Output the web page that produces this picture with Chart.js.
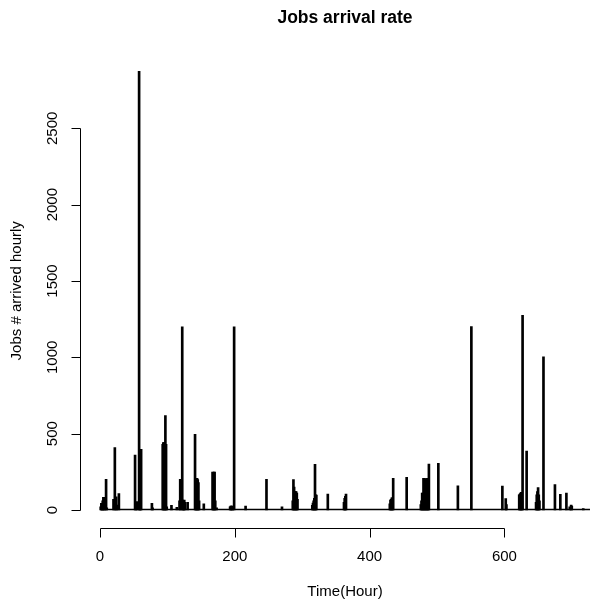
<!DOCTYPE html>
<html>
<head>
<meta charset="utf-8">
<script src="https://cdn.jsdelivr.net/npm/chart.js@4.4.1/dist/chart.umd.min.js"></script>
<style>
html, body { margin: 0; padding: 0; background: #fff; overflow: hidden; }
#wrap { width: 590px; height: 603px; overflow: hidden; }
canvas { display: block; }
</style>
</head>
<body>
<div id="wrap"><canvas id="chart" width="620" height="603"></canvas></div>
<script>
// hourly job arrivals (hours not listed are ~0)
const hours = [
    1, 2, 3, 4, 5, 6, 7, 9, 10, 20, 22, 24, 25, 28,
    52, 53, 55, 58, 59, 60, 61, 77, 78,
    93, 94, 95, 96, 97, 98, 99, 106, 114,
    118, 119, 122, 123, 124, 125, 126, 130,
    141, 142, 143, 144, 145, 146, 147, 154,
    167, 168, 169, 170, 171, 173,
    193, 194, 195, 196, 197, 199, 216, 247, 270,
    286, 287, 288, 289, 290, 291, 292, 293,
    315, 316, 317, 318, 319, 320, 321, 338,
    362, 363, 364, 365,
    430, 431, 432, 433, 434, 435, 455,
    476, 477, 478, 479, 480, 481, 482, 483, 484, 485, 486, 487, 488,
    502, 531, 551, 597, 602, 603,
    622, 623, 624, 625, 626, 627, 633,
    647, 648, 649, 650, 651, 652, 658,
    675, 683, 692, 697, 699, 700, 717
];
const jobs = [
    20, 44, 44, 60, 83, 83, 30, 201, 15, 70, 408, 87, 33, 108,
    360, 20, 55, 2873, 40, 40, 397, 44, 15,
    430, 441, 441, 441, 618, 430, 20, 30, 17,
    60, 201, 1200, 65, 60, 65, 50, 50,
    496, 100, 207, 207, 200, 180, 60, 40,
    249, 245, 249, 249, 60, 15,
    20, 26, 26, 26, 20, 1200, 25, 201, 20,
    60, 199, 150, 120, 120, 120, 110, 70,
    30, 45, 60, 76, 299, 100, 98, 105,
    50, 76, 90, 105,
    40, 65, 70, 80, 80, 207, 214,
    35, 60, 110, 110, 208, 208, 60, 100, 205, 205, 205, 205, 301,
    305, 159, 1201, 157, 74, 35,
    100, 105, 110, 115, 60, 1275, 386,
    50, 100, 120, 147, 100, 60, 1004,
    166, 103, 111, 20, 33, 25, 10
];
// low background level of arrivals, first and last hour
const floorHours = [1, 740];
const floorJobs = [3, 3];

const xTicks = [0, 200, 400, 600];
const yTicks = [0, 500, 1000, 1500, 2000, 2500];

const titleText = 'Jobs arrival rate';
const xTitle = 'Time(Hour)';
const yTitle = 'Jobs # arrived hourly';

const font = '"Liberation Sans", Arial, sans-serif';

// R style axes: lines only span the tick range, ticks point outward
const rAxes = {
    id: 'rAxes',
    afterDraw(chart) {
        const { ctx, chartArea: area, scales: { x, y } } = chart;
        ctx.save();
        ctx.strokeStyle = '#000';
        ctx.fillStyle = '#000';
        ctx.lineWidth = 1;

        const yAxis = Math.round(area.bottom) + 0.5;
        ctx.beginPath();
        ctx.moveTo(Math.round(x.getPixelForValue(xTicks[0])) + 0.5, yAxis);
        ctx.lineTo(Math.round(x.getPixelForValue(xTicks[xTicks.length - 1])) + 0.5, yAxis);
        xTicks.forEach(t => {
            const px = Math.round(x.getPixelForValue(t)) + 0.5;
            ctx.moveTo(px, yAxis);
            ctx.lineTo(px, yAxis + 9);
        });
        const xAxis = Math.round(area.left) + 0.5;
        ctx.moveTo(xAxis, Math.round(y.getPixelForValue(yTicks[0])) + 0.5);
        ctx.lineTo(xAxis, Math.round(y.getPixelForValue(yTicks[yTicks.length - 1])) + 0.5);
        yTicks.forEach(t => {
            const py = Math.round(y.getPixelForValue(t)) + 0.5;
            ctx.moveTo(xAxis, py);
            ctx.lineTo(xAxis - 9, py);
        });
        ctx.stroke();

        ctx.font = '15px ' + font;
        ctx.textAlign = 'center';
        ctx.textBaseline = 'middle';
        xTicks.forEach(t => {
            ctx.fillText(String(t), x.getPixelForValue(t), area.bottom + 29);
        });
        yTicks.forEach(t => {
            ctx.save();
            ctx.translate(area.left - 27, y.getPixelForValue(t));
            ctx.rotate(-Math.PI / 2);
            ctx.fillText(String(t), 0, 0);
            ctx.restore();
        });

        const midX = (area.left + area.right) / 2;
        const midY = (area.top + area.bottom) / 2;
        ctx.fillText(xTitle, midX, 592);
        ctx.save();
        ctx.translate(17, midY);
        ctx.rotate(-Math.PI / 2);
        ctx.fillText(yTitle, 0, 0);
        ctx.restore();

        ctx.font = 'bold 17.5px ' + font;
        ctx.fillText(titleText, midX, 18);
        ctx.restore();
    }
};

const ctx = document.getElementById('chart').getContext('2d');
new Chart(ctx, {
    type: 'bar',
    data: {
        datasets: [
            {
                type: 'line',
                data: floorHours.map((h, i) => ({ x: h, y: floorJobs[i] })),
                borderColor: '#000',
                borderWidth: 1.5,
                pointRadius: 0,
                order: 2
            },
            {
                data: hours.map((h, i) => ({ x: h, y: jobs[i] })),
                backgroundColor: '#000',
                barThickness: 2,
                order: 1
            }
        ]
    },
    options: {
        responsive: false,
        animation: false,
        devicePixelRatio: 1,
        layout: { padding: { left: 80, top: 54, right: 10, bottom: 75.4 } },
        plugins: {
            legend: { display: false },
            tooltip: { enabled: false }
        },
        scales: {
            x: { type: 'linear', min: -29.7, max: 756.7, offset: false, display: false },
            y: { min: -115.3, max: 2986.7, display: false }
        }
    },
    plugins: [rAxes]
});
</script>
</body>
</html>
